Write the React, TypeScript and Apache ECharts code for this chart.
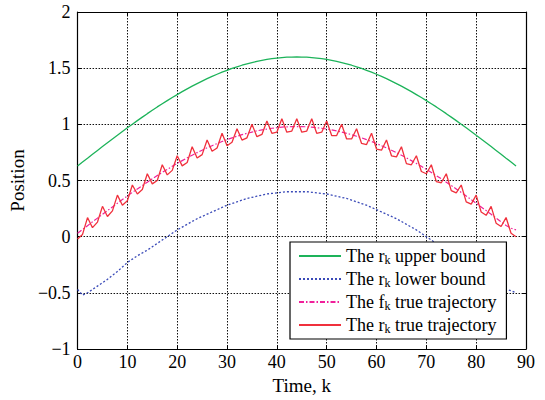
import React, { useEffect, useRef } from "react";
import * as echarts from "echarts";

const seriesNames = [
  "The r_k upper bound",
  "The r_k lower bound",
  "The f_k true trajectory",
  "The r_k true trajectory",
];

const upperBound = [
  0.63, 0.665, 0.699, 0.734, 0.768, 0.802, 0.836, 0.87, 0.903, 0.936,
  0.969, 1.001, 1.033, 1.064, 1.095, 1.125, 1.155, 1.183, 1.211, 1.239,
  1.265, 1.291, 1.316, 1.34, 1.363, 1.385, 1.407, 1.427, 1.446, 1.464,
  1.481, 1.498, 1.512, 1.526, 1.539, 1.55, 1.561, 1.57, 1.578, 1.585,
  1.59, 1.594, 1.598, 1.599, 1.6, 1.599, 1.598, 1.594, 1.59, 1.585,
  1.578, 1.57, 1.561, 1.55, 1.539, 1.526, 1.512, 1.498, 1.481, 1.464,
  1.446, 1.427, 1.407, 1.385, 1.363, 1.34, 1.316, 1.291, 1.265, 1.239,
  1.211, 1.183, 1.155, 1.125, 1.095, 1.064, 1.033, 1.001, 0.969, 0.936,
  0.903, 0.87, 0.836, 0.802, 0.768, 0.734, 0.699, 0.665, 0.63,
];

const lowerBound = [
  -0.47, -0.52, -0.5, -0.47, -0.44, -0.41, -0.38, -0.345, -0.31, -0.27,
  -0.23, -0.2, -0.17, -0.145, -0.12, -0.09, -0.06, -0.03, 0.0, 0.03,
  0.06, 0.085, 0.11, 0.135, 0.16, 0.18, 0.2, 0.22, 0.24, 0.26,
  0.28, 0.295, 0.31, 0.325, 0.34, 0.35, 0.36, 0.37, 0.38, 0.385,
  0.39, 0.395, 0.4, 0.4, 0.4, 0.4, 0.4, 0.395, 0.39, 0.385,
  0.38, 0.37, 0.36, 0.35, 0.34, 0.325, 0.31, 0.295, 0.28, 0.26,
  0.24, 0.22, 0.2, 0.18, 0.16, 0.135, 0.11, 0.085, 0.06, 0.03,
  0.0, -0.03, -0.06, -0.09, -0.12, -0.145, -0.17, -0.2, -0.23, -0.27,
  -0.31, -0.345, -0.38, -0.41, -0.43, -0.45, -0.47, -0.48, -0.5,
];

const fTrue = [
  0.03, 0.064, 0.098, 0.132, 0.165, 0.199, 0.232, 0.265, 0.298, 0.33,
  0.362, 0.394, 0.425, 0.455, 0.485, 0.515, 0.544, 0.572, 0.599, 0.626,
  0.652, 0.677, 0.702, 0.725, 0.748, 0.77, 0.791, 0.81, 0.829, 0.847,
  0.864, 0.88, 0.894, 0.908, 0.92, 0.931, 0.942, 0.951, 0.958, 0.965,
  0.97, 0.975, 0.978, 0.979, 0.98, 0.979, 0.978, 0.975, 0.97, 0.965,
  0.958, 0.951, 0.942, 0.931, 0.92, 0.908, 0.894, 0.88, 0.864, 0.847,
  0.829, 0.81, 0.791, 0.77, 0.748, 0.725, 0.702, 0.677, 0.652, 0.626,
  0.599, 0.572, 0.544, 0.515, 0.485, 0.455, 0.425, 0.394, 0.362, 0.33,
  0.298, 0.265, 0.232, 0.199, 0.165, 0.132, 0.1, 0.075, 0.06,
];

const rTrue = [
  -0.02, 0.02, 0.17, 0.08, 0.13, 0.27, 0.18, 0.23, 0.37, 0.28,
  0.32, 0.46, 0.38, 0.42, 0.56, 0.47, 0.5, 0.64, 0.55, 0.59,
  0.72, 0.63, 0.66, 0.8, 0.7, 0.73, 0.86, 0.76, 0.79, 0.92,
  0.81, 0.84, 0.96, 0.86, 0.88, 1.0, 0.89, 0.91, 1.03, 0.92,
  0.93, 1.05, 0.93, 0.94, 1.05, 0.93, 0.94, 1.05, 0.92, 0.93,
  1.03, 0.9, 0.9, 1.0, 0.87, 0.87, 0.96, 0.83, 0.82, 0.92,
  0.78, 0.77, 0.86, 0.72, 0.71, 0.8, 0.65, 0.64, 0.72, 0.58,
  0.56, 0.64, 0.49, 0.48, 0.56, 0.41, 0.39, 0.46, 0.31, 0.29,
  0.37, 0.22, 0.19, 0.27, 0.12, 0.09, 0.17, 0.03, 0.0,
];

const xTicks = [0, 10, 20, 30, 40, 50, 60, 70, 80, 90];
const yTicks = [-1, -0.5, 0, 0.5, 1, 1.5, 2];

const FONT = "Liberation Serif";

const toPairs = (arr: number[]) => arr.map((v, i) => [i, v]);

const legendLabel = (name: string) => {
  const [a, b] = name.split("_k");
  return `{m|${a}}{sub|k}{m|${b}}`;
};

export default function App() {
  const ref = useRef<HTMLDivElement>(null);
  useEffect(() => {
    if (!ref.current) return;
    const chart = echarts.init(ref.current, undefined, { renderer: "svg" });
    const gridLine = { show: true, lineStyle: { color: "#111", type: [1.5, 1.5], width: 1 } };
    const fmtMinus = (v: number) => String(v).replace("-", "\u2212");
    const tick = { show: true, inside: true, length: 4, lineStyle: { color: "#000" } };
    const axLine = { show: true, onZero: false, lineStyle: { color: "#000", width: 1.2 } };
    chart.setOption({
      animation: false,
      backgroundColor: "#fff",
      textStyle: { fontFamily: FONT },
      grid: {
        left: 76,
        right: 19,
        top: 12,
        bottom: 51,
      },
      xAxis: [
        {
          type: "value",
          min: xTicks[0],
          max: xTicks[xTicks.length - 1],
          interval: 10,
          name: "Time, k",
          nameLocation: "middle",
          nameGap: 24,
          nameTextStyle: { fontFamily: FONT, fontSize: 19, color: "#000" },
          axisLine: axLine,
          axisTick: tick,
          axisLabel: { fontFamily: FONT, fontSize: 18, color: "#000", margin: 4 },
          splitLine: gridLine,
        },
        {
          type: "value",
          position: "top",
          min: xTicks[0],
          max: xTicks[xTicks.length - 1],
          interval: 10,
          axisLine: axLine,
          axisTick: tick,
          axisLabel: { show: false },
          splitLine: { show: false },
        },
      ],
      yAxis: [
        {
          type: "value",
          min: yTicks[0],
          max: yTicks[yTicks.length - 1],
          interval: 0.5,
          name: "Position",
          nameLocation: "middle",
          nameGap: 50,
          nameTextStyle: { fontFamily: FONT, fontSize: 19, color: "#000" },
          axisLine: axLine,
          axisTick: tick,
          axisLabel: { fontFamily: FONT, fontSize: 18, color: "#000", margin: 7, formatter: fmtMinus },
          splitLine: gridLine,
        },
        {
          type: "value",
          position: "right",
          min: yTicks[0],
          max: yTicks[yTicks.length - 1],
          interval: 0.5,
          axisLine: axLine,
          axisTick: tick,
          axisLabel: { show: false },
          splitLine: { show: false },
        },
      ],
      legend: {
        orient: "vertical",
        left: 290,
        top: 242,
        padding: [5, 10, 4, 8],
        itemGap: 4,
        itemWidth: 42,
        itemHeight: 10,
        backgroundColor: "#fff",
        borderColor: "#000",
        borderWidth: 1.2,
        itemStyle: { opacity: 0 },
        data: seriesNames,
        formatter: legendLabel,
        textStyle: {
          fontFamily: FONT,
          fontSize: 18,
          color: "#000",
          rich: {
            m: { fontFamily: FONT, fontSize: 18, color: "#000", lineHeight: 20, verticalAlign: "middle" },
            sub: { fontFamily: FONT, fontSize: 12, color: "#000", lineHeight: 8, verticalAlign: "bottom" },
          },
        },
      },
      series: [
        {
          name: seriesNames[0],
          type: "line",
          data: toPairs(upperBound),
          symbol: "none",
          lineStyle: { color: "#1db35a", width: 1.3 },
          itemStyle: { color: "#1db35a" },
        },
        {
          name: seriesNames[1],
          type: "line",
          data: toPairs(lowerBound),
          symbol: "none",
          lineStyle: { color: "#3a4ab8", width: 1.3, type: [2, 2] },
          itemStyle: { color: "#3a4ab8" },
        },
        {
          name: seriesNames[2],
          type: "line",
          data: toPairs(fTrue),
          symbol: "none",
          lineStyle: { color: "#f0209a", width: 1.2, type: [5, 2, 1.5, 2] },
          itemStyle: { color: "#f0209a" },
        },
        {
          name: seriesNames[3],
          type: "line",
          data: toPairs(rTrue),
          symbol: "none",
          lineStyle: { color: "#f0303c", width: 1.3 },
          itemStyle: { color: "#f0303c" },
        },
      ],
    });
    return () => chart.dispose();
  }, []);
  return (
    <div
      ref={ref}
      style={{ position: "absolute", left: 0, top: 0, width: 545, height: 400 }}
    />
  );
}
